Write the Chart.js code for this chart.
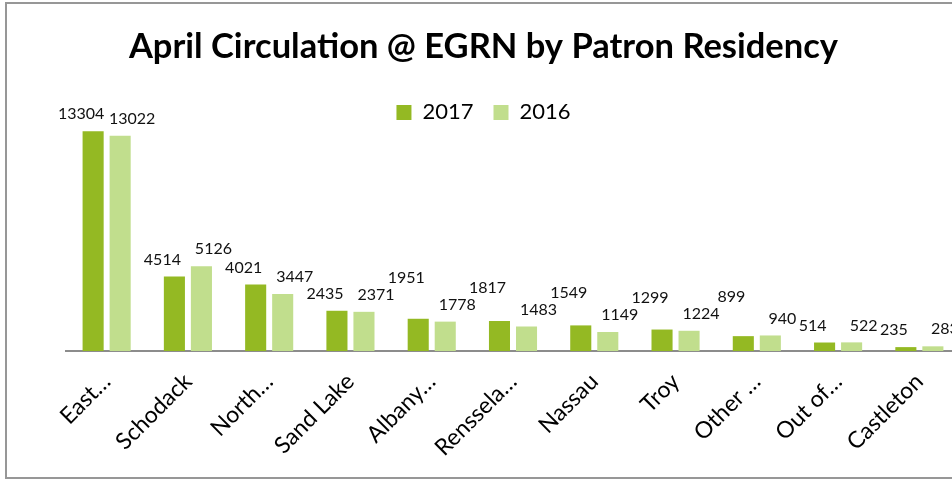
<!DOCTYPE html>
<html>
<head>
<meta charset="utf-8">
<script src="https://cdn.jsdelivr.net/npm/chart.js@4/dist/chart.umd.min.js"></script>
<style>
 html, body { margin: 0; padding: 0; background: #fff; overflow: hidden; }
 #frame {
  position: absolute; left: 5px; top: 2px;
  width: 957px; height: 477px;
  border: 2px solid #979797; box-sizing: border-box;
 }
 #frame canvas { display: block; }
</style>
</head>
<body>
<div id="frame"><canvas id="circChart" width="953" height="473"></canvas></div>
<script>
const categories = ["East…", "Schodack", "North…", "Sand Lake", "Albany…", "Renssela…", "Nassau", "Troy", "Other …", "Out of…", "Castleton"];
const circ2017 = [13304, 4514, 4021, 2435, 1951, 1817, 1549, 1299, 899, 514, 235];
const circ2016 = [13022, 5126, 3447, 2371, 1778, 1483, 1149, 1224, 940, 522, 283];
const seriesNames = ["2017", "2016"];

const FONT = "Lato, 'Open Sans', sans-serif";

// value labels above each bar; a label that would hit an earlier one is pushed up
const valueLabels = {
 id: "valueLabels",
 afterDatasetsDraw(chart) {
  const ctx = chart.ctx;
  ctx.save();
  ctx.font = "16px " + FONT;
  ctx.fillStyle = "#111";
  ctx.textAlign = "center";
  ctx.textBaseline = "bottom";
  const lineH = 16;
  const placed = [];
  const items = [];
  chart.data.labels.forEach((_, i) => {
   chart.data.datasets.forEach((ds, di) => {
    const bar = chart.getDatasetMeta(di).data[i];
    items.push({ text: String(ds.data[i]), x: bar.x + (di === 0 ? -12 : 12), y: bar.y - 9 });
   });
  });
  items.forEach((it) => {
   const w = ctx.measureText(it.text).width;
   const left = it.x - w / 2 - 1;
   const right = it.x + w / 2 + 1;
   let bottom = it.y;
   let moved = true;
   while (moved) {
    moved = false;
    for (const p of placed) {
     const hit = left < p.right && right > p.left && bottom > p.top && bottom - lineH < p.bottom;
     if (hit) { bottom = p.top - 1; moved = true; }
    }
   }
   placed.push({ left, right, bottom, top: bottom - lineH });
   ctx.fillText(it.text, it.x, bottom);
  });
  ctx.restore();
 },
};

new Chart(document.getElementById("circChart"), {
 type: "bar",
 data: {
  labels: categories,
  datasets: [
   {
    label: seriesNames[0],
    data: circ2017,
    backgroundColor: "#94b923",
    categoryPercentage: 0.665,
    barPercentage: 0.78,
    clip: false,
   },
   {
    label: seriesNames[1],
    data: circ2016,
    backgroundColor: "#c1de8d",
    categoryPercentage: 0.665,
    barPercentage: 0.78,
    clip: false,
   },
  ],
 },
 options: {
  responsive: false,
  animation: false,
  layout: { padding: 0 },
  plugins: {
   title: {
    display: true,
    text: "April Circulation @ EGRN by Patron Residency",
    color: "#000",
    font: { family: FONT, size: 34.5, weight: "bold" },
    padding: { top: 22, bottom: 14 },
   },
   legend: {
    display: true,
    labels: {
     color: "#000",
     font: { family: FONT, size: 22 },
     boxWidth: 15,
     boxHeight: 15,
     padding: 20,
    },
   },
   tooltip: { enabled: false },
  },
  scales: {
   x: {
    grid: { display: false },
    border: { display: true, color: "#8c8c8c", width: 2 },
    ticks: {
     color: "#000",
     font: { family: FONT, size: 23 },
     minRotation: 45,
     maxRotation: 45,
     autoSkip: false,
     padding: 9,
    },
    afterFit(scale) { scale.height = 126; },
   },
   y: {
    display: true,
    min: 0,
    max: 13170,
    grid: { display: false },
    border: { display: false },
    ticks: { display: false },
    afterFit(scale) { scale.width = 59; },
   },
  },
 },
 plugins: [valueLabels],
});
</script>
</body>
</html>
